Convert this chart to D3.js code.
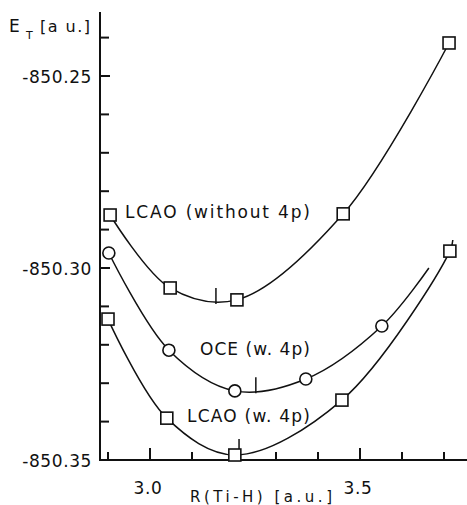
<!DOCTYPE html>
<meta charset="utf-8">
<style>
    body { margin: 0; background: #fff; }
    text { font-family: "DejaVu Sans", sans-serif; fill: #111; }
</style>
<body>
    <svg width="467" height="505"></svg>
</body>
<script src="https://cdnjs.cloudflare.com/ajax/libs/d3/7.8.5/d3.min.js"></script>
<script>

    // DATA: R(Ti-H) [a.u.] and total energy E_T [a.u.]
    var rNoP = [2.905, 3.048, 3.207, 3.460, 3.712];
    var eNoP = [-850.2862, -850.3052, -850.3083, -850.2859, -850.2414];

    var rOce = [2.902, 3.045, 3.202, 3.371, 3.552, 3.664];
    var eOce = [-850.2961, -850.3214, -850.3320, -850.3289, -850.3151, -850.3000];
    var markOce = [true, true, true, true, true, false];

    var rW4p = [2.900, 3.040, 3.202, 3.457, 3.714, 3.721];
    var eW4p = [-850.3133, -850.3391, -850.3487, -850.3344, -850.2956, -850.2927];
    var markW4p = [true, true, true, true, true, false];

    // position of the minimum of each curve
    var minR = [3.157, 3.252, 3.212];
    var minE = [-850.3094, -850.3326, -850.3487];

    var curveNames = ["LCAO (without 4p)", "OCE (w. 4p)", "LCAO (w. 4p)"];
    var labelR = [2.9405, 3.119, 3.088];
    var labelE = [-850.2870, -850.3227, -850.3401];

    var xMajor = [3.0, 3.5];
    var xMinor = [2.9, 3.1, 3.2, 3.3, 3.4, 3.6, 3.7];
    var yMajor = [-850.25, -850.30, -850.35];
    var yMinor = [-850.24, -850.26, -850.27, -850.28, -850.29, -850.31, -850.32, -850.33, -850.34];

    var svg = d3.select("svg"),
        width = +svg.attr("width"),
        height = +svg.attr("height");

    var x = d3.scaleLinear().domain([2.9, 3.7]).range([108, 444]);
    var y = d3.scaleLinear().domain([-850.35, -850.25]).range([460, 76]);

    var x0 = 100, yTop = 12, xRight = 467, y0 = y(-850.35);

    // axes lines
    var axes = svg.append("g").attr("stroke", "#111").attr("stroke-width", 2);
    axes.append("line").attr("x1", x0).attr("x2", x0).attr("y1", yTop).attr("y2", y0 + 1);
    axes.append("line").attr("x1", x0 - 1).attr("x2", xRight).attr("y1", y0).attr("y2", y0);

    // x ticks point up (inside)
    axes.selectAll(".xmaj").data(xMajor).enter().append("line")
        .attr("x1", d => x(d)).attr("x2", d => x(d))
        .attr("y1", y0).attr("y2", y0 - 12);
    axes.selectAll(".xmin").data(xMinor).enter().append("line")
        .attr("x1", d => x(d)).attr("x2", d => x(d))
        .attr("y1", y0).attr("y2", y0 - 8);

    // y ticks point right (inside)
    axes.selectAll(".ymaj").data(yMajor).enter().append("line")
        .attr("x1", x0).attr("x2", x0 + 10)
        .attr("y1", d => y(d)).attr("y2", d => y(d));
    axes.selectAll(".ymin").data(yMinor).enter().append("line")
        .attr("x1", x0).attr("x2", x0 + 9)
        .attr("y1", d => y(d)).attr("y2", d => y(d));

    // tick labels
    svg.selectAll(".ylab").data(yMajor).enter().append("text")
        .attr("x", 92).attr("y", d => y(d) + 7)
        .attr("text-anchor", "end")
        .attr("font-size", 17)
        .attr("letter-spacing", 0.6)
        .text(d => "-" + d3.format(".2f")(-d));

    svg.selectAll(".xlab").data(xMajor).enter().append("text")
        .attr("x", d => x(d) - 2).attr("y", 494)
        .attr("text-anchor", "middle")
        .attr("font-size", 17)
        .attr("letter-spacing", 0.6)
        .text(d => d3.format(".1f")(d));

    // axis titles
    svg.append("text").attr("x", 9).attr("y", 32).attr("font-size", 17).text("E");
    svg.append("text").attr("x", 26).attr("y", 39).attr("font-size", 11).text("T");
    svg.append("text").attr("x", 40).attr("y", 32).attr("font-size", 16)
        .attr("textLength", 50).attr("lengthAdjust", "spacing")
        .text("[a u.]");

    svg.append("text")
        .attr("x", 190).attr("y", 502)
        .attr("font-size", 15)
        .attr("textLength", 142).attr("lengthAdjust", "spacing")
        .text("R(Ti-H) [a.u.]");

    // curves
    var line = d3.line()
        .x(d => x(d[0]))
        .y(d => y(d[1]))
        .curve(d3.curveCatmullRom.alpha(0.5));

    var series = [
        { r: rNoP, e: eNoP, mark: rNoP.map(() => true), shape: "square" },
        { r: rOce, e: eOce, mark: markOce, shape: "circle" },
        { r: rW4p, e: eW4p, mark: markW4p, shape: "square" }
    ];

    var g = svg.append("g");

    series.forEach(function(s) {
        var pts = s.r.map((r, i) => [r, s.e[i]]);
        g.append("path")
            .attr("d", line(pts))
            .attr("fill", "none")
            .attr("stroke", "#111")
            .attr("stroke-width", 1.5);
    });

    // minimum markers
    g.selectAll(".min").data(minR).enter().append("line")
        .attr("x1", (d, i) => x(d)).attr("x2", (d, i) => x(d))
        .attr("y1", (d, i) => y(minE[i])).attr("y2", (d, i) => y(minE[i]) - 16)
        .attr("stroke", "#111").attr("stroke-width", 1.5);

    // point markers
    series.forEach(function(s) {
        var pts = s.r.map((r, i) => [r, s.e[i], s.mark[i]]).filter(p => p[2]);
        if (s.shape == "square") {
            g.selectAll(null).data(pts).enter().append("rect")
                .attr("x", d => x(d[0]) - 6).attr("y", d => y(d[1]) - 6)
                .attr("width", 12).attr("height", 12)
                .attr("fill", "#fff").attr("stroke", "#111").attr("stroke-width", 1.6);
        } else {
            g.selectAll(null).data(pts).enter().append("circle")
                .attr("cx", d => x(d[0])).attr("cy", d => y(d[1]))
                .attr("r", 6)
                .attr("fill", "#fff").attr("stroke", "#111").attr("stroke-width", 1.6);
        }
    });

    // curve labels
    var labelWidth = [185, 110, 123];
    svg.selectAll(".clab").data(curveNames).enter().append("text")
        .attr("x", (d, i) => x(labelR[i])).attr("y", (d, i) => y(labelE[i]))
        .attr("font-size", 17)
        .attr("textLength", (d, i) => labelWidth[i])
        .attr("lengthAdjust", "spacing")
        .text(d => d);

</script>
